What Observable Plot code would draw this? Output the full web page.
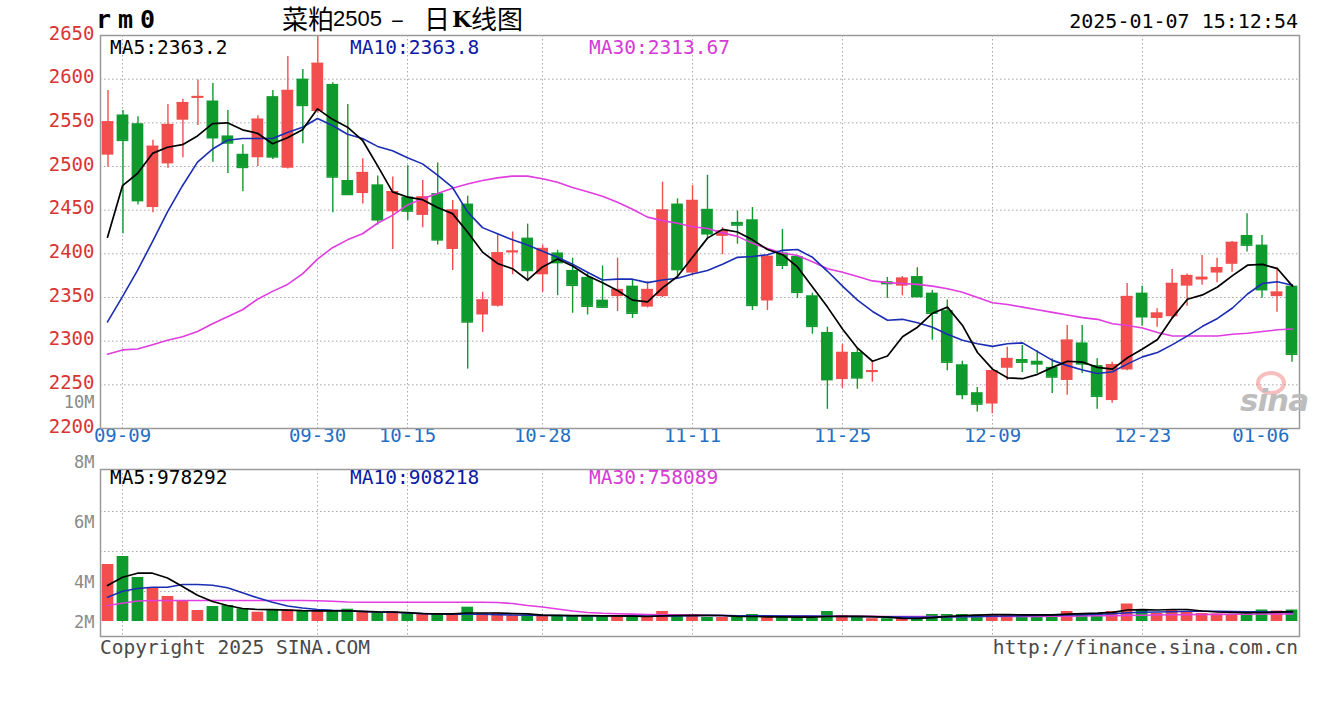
<!DOCTYPE html>
<html><head><meta charset="utf-8">
<script src="https://cdn.jsdelivr.net/npm/d3@7"></script>
<script src="https://cdn.jsdelivr.net/npm/@observablehq/plot@0.6"></script>
<style>
html,body{margin:0;padding:0;background:#fff;}
#wrap{position:relative;width:1320px;height:720px;overflow:hidden;background:#fff;font-family:"DejaVu Sans Mono",monospace;}
.layer{position:absolute;left:0;}
.t{position:absolute;white-space:nowrap;line-height:1;}
</style></head><body>
<div id="wrap"></div>
<script>
// ---------- data ----------
const dates = ["09-06","09-09","09-10","09-11","09-12","09-13","09-18","09-19","09-20","09-23","09-24","09-25","09-26","09-27","09-30","10-08","10-09","10-10","10-11","10-14","10-15","10-16","10-17","10-18","10-21","10-22","10-23","10-24","10-25","10-28","10-29","10-30","10-31","11-01","11-04","11-05","11-06","11-07","11-08","11-11","11-12","11-13","11-14","11-15","11-18","11-19","11-20","11-21","11-22","11-25","11-26","11-27","11-28","11-29","12-02","12-03","12-04","12-05","12-06","12-09","12-10","12-11","12-12","12-13","12-16","12-17","12-18","12-19","12-20","12-23","12-24","12-25","12-26","12-27","12-30","12-31","01-02","01-03","01-06","01-07"];
const open = [2513,2559,2549,2453,2503,2553,2578,2575,2535,2514,2510,2580,2498,2600,2563,2594,2484,2469,2479,2448,
 2465,2444,2469,2405,2457,2330,2340,2401,2418,2376,2401,2381,2373,2347,2351,2363,2339,2351,2457,2378,
 2451,2420,2436,2439,2346,2401,2397,2352,2310,2256,2287,2264,2368,2363,2374,2355,2335,2273,2241,2228,
 2269,2279,2277,2270,2255,2298,2272,2232,2267,2355,2326,2328,2363,2370,2378,2388,2421,2410,2351,2363];
const high = [2587,2564,2557,2530,2571,2577,2599,2595,2564,2525,2558,2587,2626,2611,2650,2596,2571,2509,2489,2488,
 2501,2484,2504,2461,2466,2356,2423,2425,2434,2410,2404,2395,2378,2386,2395,2370,2368,2482,2463,2478,
 2490,2430,2449,2453,2399,2428,2398,2355,2316,2296,2291,2277,2373,2374,2384,2358,2347,2277,2247,2268,
 2293,2295,2289,2280,2318,2318,2280,2276,2366,2363,2337,2382,2377,2398,2395,2414,2446,2421,2384,2365];
const low = [2499,2423,2456,2447,2498,2510,2547,2505,2492,2471,2500,2508,2497,2526,2561,2447,2467,2457,2433,2405,
 2438,2430,2410,2381,2268,2310,2339,2376,2368,2356,2352,2332,2330,2338,2334,2326,2338,2350,2372,2376,
 2417,2399,2411,2335,2335,2382,2349,2308,2222,2246,2245,2253,2349,2352,2351,2301,2266,2233,2219,2217,
 2255,2264,2263,2240,2238,2263,2222,2229,2266,2317,2316,2325,2340,2364,2367,2379,2402,2349,2333,2276];
const close = [2551,2530,2461,2523,2548,2573,2580,2533,2527,2499,2554,2511,2587,2570,2618,2488,2468,2493,2439,2471,
 2449,2465,2416,2450,2322,2347,2401,2403,2381,2406,2390,2364,2340,2339,2359,2332,2359,2450,2382,2461,
 2423,2426,2433,2341,2397,2387,2356,2317,2256,2287,2258,2266,2366,2372,2351,2332,2276,2239,2228,2266,
 2280,2276,2274,2259,2301,2274,2237,2273,2351,2328,2332,2366,2375,2373,2384,2413,2410,2359,2356,2285];
const ma5 = [2419,2478,2492,2515,2522,2525,2535,2549,2550,2542,2538,2526,2533,2542,2566,2554,2545,2530,2501,2471,
 2465,2462,2453,2446,2425,2402,2389,2383,2370,2385,2394,2386,2375,2367,2358,2347,2345,2361,2374,2396,
 2418,2428,2425,2416,2405,2399,2385,2362,2339,2314,2292,2277,2283,2305,2316,2332,2339,2318,2287,2268,
 2258,2257,2262,2270,2277,2276,2270,2268,2281,2291,2302,2327,2348,2353,2362,2375,2387,2388,2383,2363];
const ma10 = [2322,2351,2381,2414,2448,2478,2505,2520,2530,2532,2532,2532,2539,2545,2555,2547,2537,2532,2523,2518,
 2510,2503,2490,2476,2448,2430,2423,2416,2410,2403,2396,2388,2379,2370,2371,2371,2367,2370,2372,2377,
 2381,2388,2396,2397,2399,2404,2405,2396,2380,2363,2347,2334,2324,2325,2321,2316,2308,2301,2297,2294,
 2297,2298,2288,2278,2272,2267,2263,2265,2274,2282,2287,2296,2306,2317,2326,2338,2354,2366,2368,2364];
const ma30 = [2285,2290,2291,2296,2301,2305,2311,2320,2328,2336,2348,2357,2365,2377,2394,2407,2416,2423,2435,2444,
 2456,2463,2469,2475,2480,2484,2487,2489,2489,2486,2482,2476,2471,2466,2459,2451,2442,2438,2435,2431,
 2429,2424,2420,2412,2406,2401,2398,2391,2383,2379,2374,2369,2367,2366,2365,2363,2360,2356,2350,2344,
 2342,2339,2336,2333,2330,2327,2325,2320,2318,2315,2310,2306,2306,2306,2306,2308,2309,2311,2313,2314];
// volume, in units of 10,000 lots
const vol = [570,650,440,340,250,200,110,150,160,127, 93,117,117,103,103,110,123,93,83,100,
 77,70,77,77,143,77,83,57,60,57, 60,60,60,60,60,40,50,100,70,70,
 40,40,40,70,50,50,40,35,100,60, 50,28,28,50,50,70,70,70,65,70,
 70,65,65,65,100,80,80,100,175,115, 80,110,100,80,75,70,80,115,105,115];
const vma5 = [360,443,483,483,435,350,262,200,160,130,120,118,114,108,106,107,107,102,96,95,
 88,80,77,76,85,85,85,80,76,64,61,59,58,57,57,53,50,57,60,62,
 62,60,52,50,47,46,44,44,50,52,52,48,43,32,30,38,50,58,63,68,
 68,67,66,66,74,78,83,92,115,118,115,120,120,105,95,92,88,90,93,97.8];
const vma10 = [243,303,330,343,343,370,370,363,337,287,237,193,155,135,120,112,108,100,95,92,
 85,79,75,72,72,72,69,65,62,61,60,58,57,57,57,56,55,55,56,58,
 60,60,57,57,56,55,55,54,52,50,50,48,46,44,43,45,46,48,50,52,
 55,58,60,62,65,68,72,77,87,92,95,98,102,103,102,100,98,97,95,90.8];
const vma30 = [160,183,205,210,210,210,210,210,210,210,210,210,210,210,208,203,195,193,193,193,
 193,193,193,193,192,192,190,180,160,145,125,105,90,82,78,74,70,68,66,64,
 62,60,58,57,56,55,54,53,53,52,52,51,50,50,49,49,49,50,50,50,
 50,51,51,52,53,55,57,58,61,63,65,67,69,70,71,72,73,75,75,75.8];

const priceTicks = [2200,2250,2300,2350,2400,2450,2500,2550,2600,2650];
const priceGrid = [2250,2300,2350,2400,2450,2500,2550,2600];
const tickDates = ["09-09","09-30","10-15","10-28","11-11","11-25","12-09","12-23","01-06"];
const gridDates = ["09-09","09-30","10-15","10-28","11-11","11-25","12-09","12-23"];
const volTickValues = [0,400,1000,1600,2200];
const volTickLabels = ["2M","4M","6M","8M","10M"];
const volGrid = [300,700,1100];

const legendPrice = ["MA5:2363.2","MA10:2363.8","MA30:2313.67"];
const legendVol = ["MA5:978292","MA10:908218","MA30:758089"];
const titleSymbol = "rm0";
const titleParts = ["菜粕","2505","–","日","K","线图"];
const stamp = "2025-01-07 15:12:54";
const footLeft = "Copyright 2025 SINA.COM";
const footRight = "http://finance.sina.com.cn";

// ---------- build ----------
const rows = dates.map((d,i)=>({d, o:open[i], h:high[i], l:low[i], c:close[i], up:close[i]>=open[i],
  m5:ma5[i], m10:ma10[i], m30:ma30[i], v:vol[i], v5:vma5[i], v10:vma10[i], v30:vma30[i]}));
const upRows = rows.filter(r=>r.up), dnRows = rows.filter(r=>!r.up);

const RED="#f24e4e", GREEN="#0f9a2d", GRID="#a8a8a8", FRAME="#9a9a9a";
const C5="#000000", C10="#1b2db4", C30="#e03ce0";
const W=1320;
const baseStyle = {background:"transparent", overflow:"visible", fontFamily:"DejaVu Sans Mono, monospace", fontSize:"19px"};
const priceDims = {width:W, height:460, marginTop:35, marginBottom:32, marginLeft:100, marginRight:21};
const volDims = {width:W, height:280, marginTop:89, marginBottom:24, marginLeft:100, marginRight:21};
const yPrice = {domain:[2200,2650], axis:null};
const yVol = {domain:[-150,1520], axis:null};
const xPoint = {type:"point", domain:dates, padding:0, axis:null};
const xBand = {type:"band", domain:dates, paddingInner:0.22, paddingOuter:0.11, axis:null};
const dash = "1.5,2.5";

const wrap = document.getElementById("wrap");
function place(svg, top){ svg.classList.add("layer"); svg.style.top = top+"px"; wrap.appendChild(svg); }

// price: grid + labels (point scale)
place(Plot.plot({...priceDims, style:baseStyle, x:xPoint, y:yPrice, marks:[
  Plot.ruleY(priceGrid, {stroke:GRID, strokeDasharray:dash}),
  Plot.ruleX(gridDates, {stroke:GRID, strokeDasharray:dash}),
  Plot.text(priceTicks, {y:d=>d, text:d=>String(d), frameAnchor:"left", dx:-6, dy:-2, textAnchor:"end", fill:"#d93434", fontSize:19}),
  Plot.text(tickDates, {x:d=>d, text:d=>d, filter:(d,i)=>i<tickDates.length-1, frameAnchor:"bottom", dy:13, fill:"#1f6fc4", fontSize:19}),
  Plot.text(tickDates, {x:d=>d, text:d=>d, filter:(d,i)=>i===tickDates.length-1, frameAnchor:"bottom", dy:13, dx:12, textAnchor:"end", fill:"#1f6fc4", fontSize:19})
]}), 0);

// volume: grid + labels
place(Plot.plot({...volDims, style:baseStyle, x:xPoint, y:yVol, marks:[
  Plot.ruleY(volGrid, {stroke:GRID, strokeDasharray:dash}),
  Plot.ruleX(gridDates, {stroke:GRID, strokeDasharray:dash}),
  Plot.text(volTickValues, {y:d=>d, text:(d,i)=>volTickLabels[i], frameAnchor:"left", dx:-6, dy:1, textAnchor:"end", fill:"#8a8a8a", fontSize:17})
]}), 380);

// candles (band scale)
place(Plot.plot({...priceDims, style:baseStyle, x:xBand, y:yPrice, marks:[
  Plot.ruleX(upRows, {x:"d", y1:"l", y2:"h", stroke:RED, strokeWidth:1.4}),
  Plot.ruleX(dnRows, {x:"d", y1:"l", y2:"h", stroke:GREEN, strokeWidth:1.4}),
  Plot.barY(upRows, {x:"d", y1:"o", y2:"c", fill:RED}),
  Plot.barY(dnRows, {x:"d", y1:"o", y2:"c", fill:GREEN}),
  Plot.tickY(upRows, {x:"d", y:"c", stroke:RED, strokeWidth:1.6}),
  Plot.tickY(dnRows, {x:"d", y:"c", stroke:GREEN, strokeWidth:1.6})
]}), 0);

// volume bars
place(Plot.plot({...volDims, style:baseStyle, x:xBand, y:yVol, marks:[
  Plot.barY(upRows, {x:"d", y:"v", fill:RED}),
  Plot.barY(dnRows, {x:"d", y:"v", fill:GREEN})
]}), 380);

// MA lines + frame (point scale)
place(Plot.plot({...priceDims, style:baseStyle, x:xPoint, y:yPrice, marks:[
  Plot.lineY(rows, {x:"d", y:"m30", stroke:C30, strokeWidth:1.6}),
  Plot.lineY(rows, {x:"d", y:"m10", stroke:C10, strokeWidth:1.6}),
  Plot.lineY(rows, {x:"d", y:"m5", stroke:C5, strokeWidth:1.7}),
  Plot.frame({stroke:FRAME, strokeWidth:1.5})
]}), 0);

place(Plot.plot({...volDims, style:baseStyle, x:xPoint, y:yVol, marks:[
  Plot.lineY(rows, {x:"d", y:"v30", stroke:C30, strokeWidth:1.6}),
  Plot.lineY(rows, {x:"d", y:"v10", stroke:C10, strokeWidth:1.6}),
  Plot.lineY(rows, {x:"d", y:"v5", stroke:C5, strokeWidth:1.7}),
  Plot.frame({stroke:FRAME, strokeWidth:1.5})
]}), 380);

// ---------- texts ----------
function addText(str, css){ const s=document.createElement("div"); s.className="t"; s.textContent=str; Object.assign(s.style, css); wrap.appendChild(s); return s; }
addText(titleSymbol, {left:"96px", top:"7px", fontSize:"25px", fontWeight:"bold", letterSpacing:"7px", color:"#000"});
const cjk = "'Noto Sans CJK SC', sans-serif";
addText(titleParts[0], {left:"282px", top:"5px", fontSize:"26px", fontFamily:cjk, color:"#000"});
addText(titleParts[1], {left:"333px", top:"8px", fontSize:"22px", fontFamily:"'Liberation Sans', sans-serif", color:"#000"});
addText(titleParts[2], {left:"391px", top:"6px", fontSize:"24px", fontFamily:cjk, color:"#000"});
addText(titleParts[3], {left:"424px", top:"5px", fontSize:"26px", fontFamily:cjk, color:"#000"});
addText(titleParts[4], {left:"452px", top:"8px", fontSize:"22px", fontWeight:"bold", fontFamily:"'DejaVu Serif', serif", color:"#000"});
addText(titleParts[5], {left:"471px", top:"5px", fontSize:"26px", fontFamily:cjk, color:"#000"});
addText(stamp, {right:"22px", top:"11px", fontSize:"20px", color:"#000"});
const legColors = [C5, "#0c1aa6", "#d63ad6"];
const legX = [110, 350, 589];
legendPrice.forEach((s,i)=>addText(s, {left:legX[i]+"px", top:"38px", fontSize:"19.5px", color:legColors[i]}));
legendVol.forEach((s,i)=>addText(s, {left:legX[i]+"px", top:"468px", fontSize:"19.5px", color:legColors[i]}));
addText(footLeft, {left:"100px", top:"638px", fontSize:"19.5px", color:"#4a4a4a"});
addText(footRight, {right:"22px", top:"638px", fontSize:"19.5px", color:"#4a4a4a"});
// watermark
const eye = document.createElement("div");
Object.assign(eye.style, {position:"absolute", left:"1256px", top:"371px", width:"22px", height:"16px", border:"4px solid rgba(235,110,110,0.45)", borderRadius:"50%"});
wrap.appendChild(eye);
addText("sina", {left:"1240px", top:"385px", fontSize:"31px", fontWeight:"bold", fontStyle:"italic", fontFamily:"'DejaVu Sans', sans-serif", color:"#bdbdbd", letterSpacing:"-1px"});
</script>
</body></html>
